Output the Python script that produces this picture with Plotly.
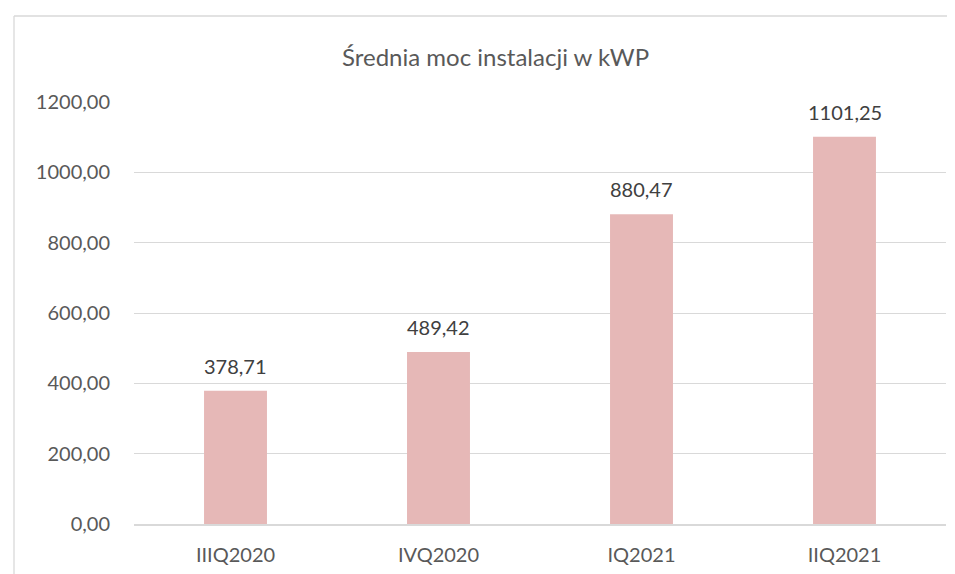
import plotly.graph_objects as go

categories = ["IIIQ2020", "IVQ2020", "IQ2021", "IIQ2021"]
values = [378.71, 489.42, 880.47, 1101.25]
y_tickvals = [0, 200, 400, 600, 800, 1000, 1200]
y_ticktext = ["0,00", "200,00", "400,00", "600,00", "800,00", "1000,00", "1200,00"]
title_text = "Średnia moc instalacji w kWP"

FONT = "Lato"
W, H = 955, 574
L, R, T, B = 126, 17, 94, 58
pw, ph = W - L - R, H - T - B

def fmt(v):
    return f"{v:.2f}".replace(".", ",")

fig = go.Figure()
fig.add_trace(go.Bar(
    x=categories, y=values,
    marker=dict(color="#E6B8B7", line=dict(width=0)),
    hoverinfo="skip",
))

annotations = []
for c, v in zip(categories, values):
    annotations.append(dict(
        x=c, y=v, xref="x", yref="y", text=fmt(v), showarrow=False,
        yanchor="bottom", yshift=11,
        font=dict(family=FONT, size=20, color="#404040"),
    ))
annotations.append(dict(
    x=(487 - L) / pw, y=1 + (T - 48) / ph, xref="paper", yref="paper",
    text=title_text, showarrow=False, xanchor="center", yanchor="middle",
    font=dict(family=FONT, size=24, color="#595959"),
))

bx = (6 - L) / pw
by = 1 + (T - 8) / ph
shapes = [
    dict(type="line", xref="paper", yref="paper", x0=bx, x1=bx, y0=-0.5, y1=by,
         line=dict(color="#D9D9D9", width=1.3)),
    dict(type="line", xref="paper", yref="paper", x0=bx, x1=1.5, y0=by, y1=by,
         line=dict(color="#D9D9D9", width=1.3)),
]

fig.update_layout(
    width=W, height=H,
    margin=dict(l=L, r=R, t=T, b=B, pad=0),
    paper_bgcolor="white", plot_bgcolor="white",
    bargap=0.69,
    showlegend=False,
    annotations=annotations,
    shapes=shapes,
    xaxis=dict(
        showgrid=False, showline=True, linecolor="#D9D9D9", linewidth=1.5,
        ticks="", tickfont=dict(family=FONT, size=20, color="#595959"),
        ticklabelstandoff=12,
    ),
    yaxis=dict(
        range=[0, 1200], tickvals=y_tickvals, ticktext=y_ticktext,
        showgrid=True, gridcolor="#D9D9D9", gridwidth=1.2,
        zeroline=False, showline=False, ticks="",
        tickfont=dict(family=FONT, size=20, color="#595959"),
        ticklabelstandoff=23,
    ),
)

fig.write_html("out.html")
